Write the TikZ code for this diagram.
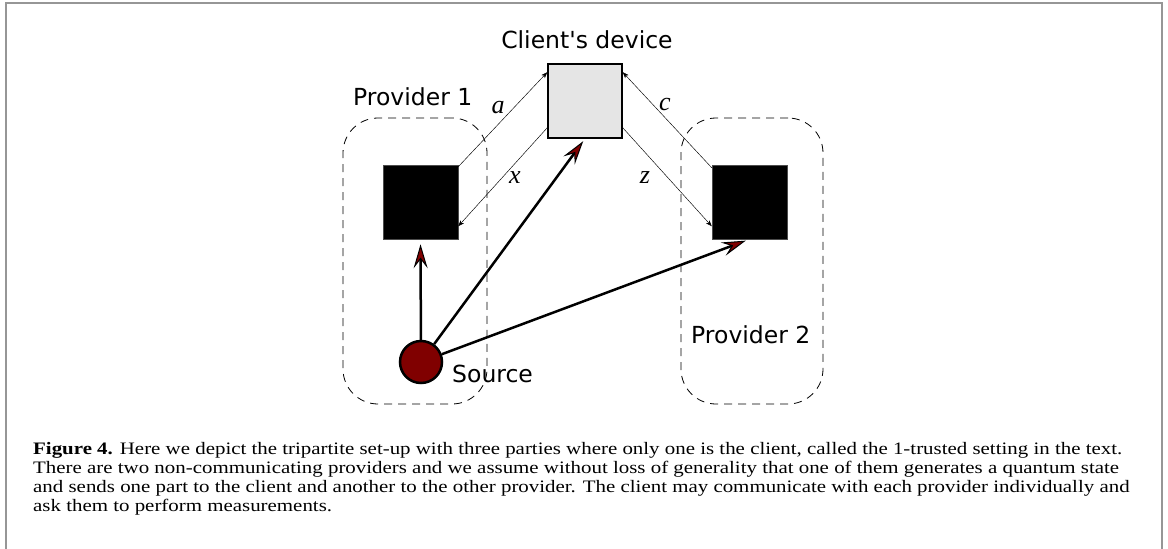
\documentclass[tikz,border=0pt]{standalone}
\usepackage{fontspec}
\setmainfont{Liberation Serif}
\newfontfamily\dejavu{DejaVu Sans}
\usetikzlibrary{arrows.meta}
\definecolor{srcred}{RGB}{128,0,0}
\definecolor{devgray}{RGB}{229,229,229}
\definecolor{framegray}{RGB}{150,150,150}
\newlength\capwd
\newcommand\capA{\textbf{Figure 4.} Here we depict the tripartite set-up with three parties where only one is the client, called the 1-trusted setting in the text.}
\newcommand\capB{There are two non-communicating providers and we assume without loss of generality that one of them generates a quantum state}
\newcommand\capC{and sends one part to the client and another to the other provider. The client may communicate with each provider individually and}
\newcommand\capD{ask them to perform measurements.}
\begin{document}%
\settowidth\capwd{\fontsize{17.5}{20}\selectfont\capA}%
\pgfmathsetmacro\capfac{1089/\capwd}%
\begin{tikzpicture}[x=1pt,y=-1pt,
  lbl/.style={font=\dejavu\fontsize{23.5}{28}\selectfont, inner sep=0pt},
  vlbl/.style={font=\itshape\fontsize{26}{30}\selectfont, inner sep=0pt},
  provbox/.style={draw, line width=0.8pt, dash pattern=on 8pt off 6pt, rounded corners=35pt, minimum height=286pt, inner sep=0pt},
  blackbox/.style={fill=black, draw=black!70, line width=0.5pt, minimum width=75pt, minimum height=74pt, inner sep=0pt},
  thick arrow/.style={line width=2.5pt, -{Stealth[length=24pt,width=14pt,inset=9pt,fill=srcred,line width=1pt]}},
  thin arrow/.style={line width=0.45pt, -{Stealth[length=6pt,width=4.5pt,inset=1.5pt]}},
  captext/.style={font=\fontsize{17.5}{20}\selectfont, inner sep=0pt, anchor=base west}]
\useasboundingbox (0,0) rectangle (1168,549);
% frame
\draw[framegray, line width=2pt] (6,549) -- (6,3) -- (1162,3) -- (1162,549);
% provider regions
\node[provbox, minimum width=144pt] (p1box) at (415,261) {};
\node[provbox, minimum width=142pt] (p2box) at (752,261) {};
% devices
\node[draw, fill=devgray, line width=1.5pt, minimum width=74pt, minimum height=74pt, inner sep=0pt] (dev) at (585,101) {};
\node[blackbox] (p1dev) at (420.5,202) {};
\node[blackbox] (p2dev) at (749.5,202) {};
% source
\node[circle, fill=srcred, draw=black, line width=2.5pt, minimum size=42pt, inner sep=0pt] (src) at (421,362) {};
% labels
\node[lbl, anchor=base] (devlbl) at (587,48) {Client's device};
\node[lbl, anchor=base west] (p1lbl) at (353,105) {Provider 1};
\node[lbl, anchor=base west] (p2lbl) at (691,343) {Provider 2};
\node[lbl, anchor=base west] (srclbl) at (452,382) {Source};
% thick arrows
\draw[thick arrow, shorten >=5pt] (src) -- (p1dev.south);
\draw[thick arrow, shorten >=3pt] (src) -- (dev.south);
\draw[thick arrow, shorten >=4pt] (src) -- (p2dev.south);
% thin communication arrows
\draw[thin arrow] ([yshift=-2pt]p1dev.north east) -- ([yshift=-9pt]dev.north west);
\draw[thin arrow] ([yshift=11pt]dev.south west) -- ([yshift=13pt]p1dev.south east);
\draw[thin arrow] ([yshift=-3pt]p2dev.north west) -- ([yshift=-9pt]dev.north east);
\draw[thin arrow] ([yshift=11pt]dev.south east) -- ([yshift=13pt]p2dev.south west);
\node[vlbl, anchor=base] (la) at (498,113) {a};
\node[vlbl, anchor=base] (lx) at (515,183) {x};
\node[vlbl, anchor=base] (lc) at (665,110) {c};
\node[vlbl, anchor=base] (lz) at (645,183) {z};
% caption
\node[captext] (cap1) at (33,454) {\scalebox{\capfac}[1]{\capA}};
\node[captext] (cap2) at (33,473) {\scalebox{\capfac}[1]{\capB}};
\node[captext] (cap3) at (33,492) {\scalebox{\capfac}[1]{\capC}};
\node[captext] (cap4) at (33,511) {\scalebox{\capfac}[1]{\capD}};
\end{tikzpicture}%
\end{document}
